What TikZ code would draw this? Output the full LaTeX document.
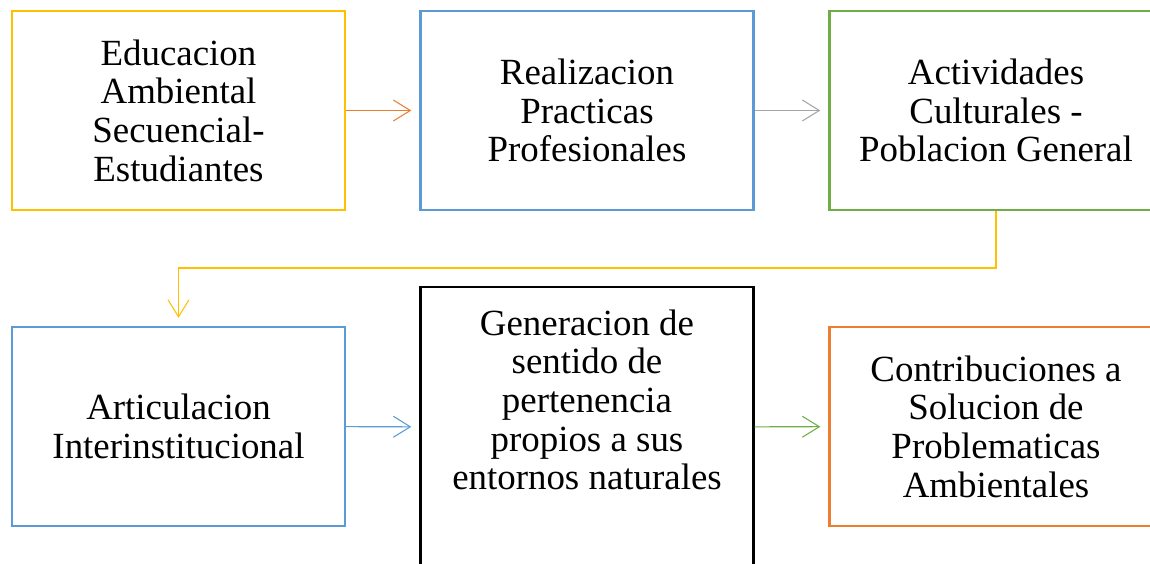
\documentclass[tikz,border=0pt]{standalone}
\usepackage{fontspec}
\setmainfont{Liberation Serif}
\usepackage{tikz}
\usetikzlibrary{arrows.meta}

\definecolor{boxyellow}{HTML}{FFC000}
\definecolor{boxblue}{HTML}{5B9BD5}
\definecolor{boxgreen}{HTML}{70AD47}
\definecolor{boxorange}{HTML}{ED7D31}
\definecolor{boxgray}{HTML}{A5A5A5}

\begin{document}
\begin{tikzpicture}[x=0.02cm, y=-0.02cm,
    stagebox/.style={draw, line width=1.4pt, minimum width=6.66cm, minimum height=3.98cm,
        align=center, inner sep=0pt, font=\fontsize{21}{22}\selectfont},
    flow/.style={line width=0.6pt, shorten >=0.16cm, -{Straight Barb[length=0.34cm, width=0.42cm]}}]
    \useasboundingbox (0,0) rectangle (1150,564);

    % Top row
    \node[stagebox, boxyellow] (edu) at (178.5,110.5) {\color{black}Educacion\\\color{black}Ambiental\\\color{black}Secuencial-\\\color{black}Estudiantes};
    \node[stagebox, boxblue] (pra) at (587,110.5) {\color{black}Realizacion\\\color{black}Practicas\\\color{black}Profesionales};
    \node[stagebox, boxgreen] (act) at (996,110.5) {\color{black}Actividades\\\color{black}Culturales -\\\color{black}Poblacion General};

    % Bottom row
    \node[stagebox, boxblue] (art) at (178.5,426.5) {\color{black}Articulacion\\\color{black}Interinstitucional};
    \node[stagebox, black, minimum height=5.6cm] (gen) at (587,427) {};
    \node[align=center, inner sep=0pt, font=\fontsize{21}{22}\selectfont] (gentext) at (587,400)
        {Generacion de\\sentido de\\pertenencia\\propios a sus\\entornos naturales};
    \node[stagebox, boxorange] (con) at (996,426.5) {\color{black}Contribuciones a\\\color{black}Solucion de\\\color{black}Problematicas\\\color{black}Ambientales};

    % Connectors
    \coordinate (bend) at (0,268);
    \draw[flow, boxorange] (edu) -- (pra);
    \draw[flow, boxgray] (pra) -- (act);
    \draw[flow, boxyellow] (act.south) -- (act.south |- bend) -| (art.north);
    \draw[flow, boxblue] (art) -- (gen);
    \draw[flow, boxgreen] (gen) -- (con);
\end{tikzpicture}
\end{document}
